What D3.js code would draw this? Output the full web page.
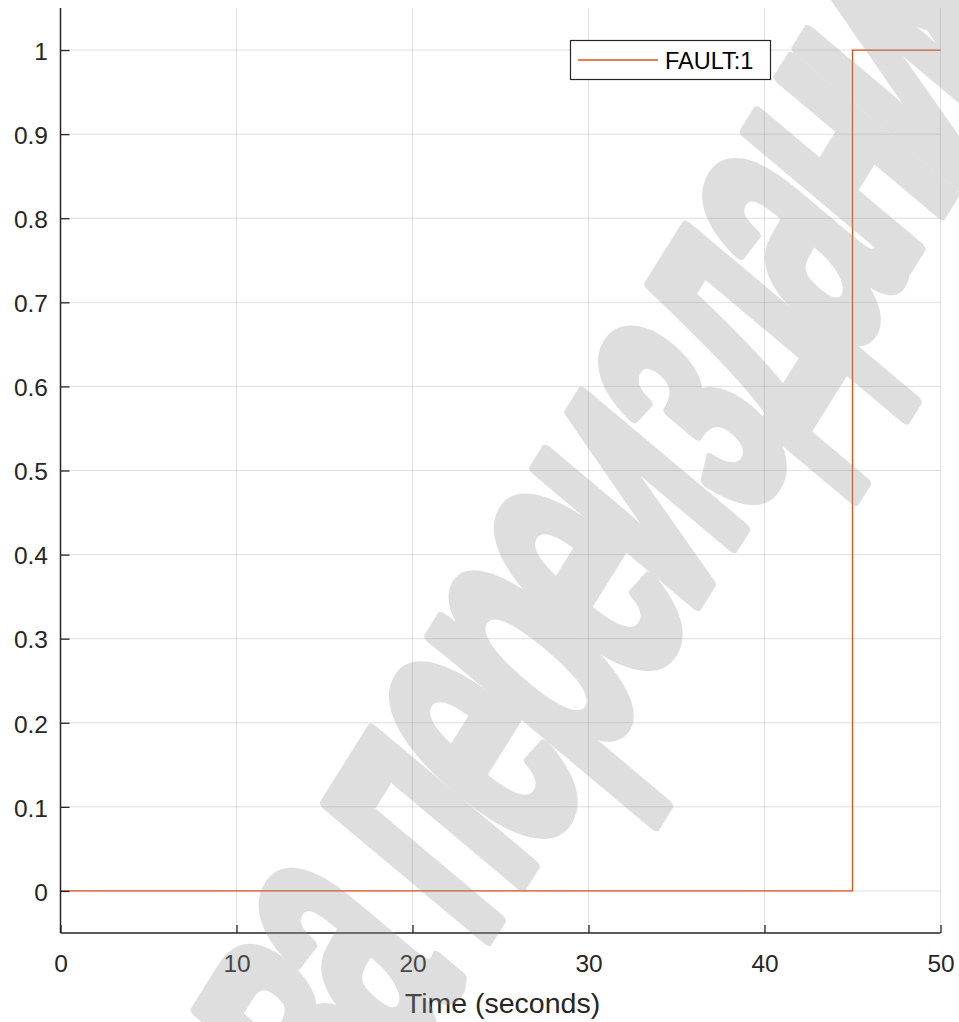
<!DOCTYPE html>
<html>
<head>
<meta charset="utf-8">
<script src="https://cdn.jsdelivr.net/npm/d3@7"></script>
<style>
  html, body { margin: 0; padding: 0; background: #ffffff; }
  svg { display: block; }
  text { font-family: "Liberation Sans", Arial, Helvetica, sans-serif; }
</style>
</head>
<body>
<svg id="chart" width="959" height="1022"></svg>
<script>
// ---- data ----
const time = [0, 45, 50];          // seconds
const fault = [0, 1, 1];           // FAULT:1 signal (step after)
const seriesName = "FAULT:1";
const xTicks = [0, 10, 20, 30, 40, 50];
const yTicks = [0, 0.1, 0.2, 0.3, 0.4, 0.5, 0.6, 0.7, 0.8, 0.9, 1];
const xLabel = "Time (seconds)";
const watermarkWords = ["ва", "переизданиж"];   // visible part of the diagonal watermark

// ---- layout ----
const plotL = 60.5, plotR = 940.5, plotT = 8, plotB = 933;
const axisColor = "#262626";
const lineColor = "#D95319";

const svg = d3.select("#chart");
const x = d3.scaleLinear().domain([0, 50]).range([plotL, plotR]);
const y = d3.scaleLinear().domain([-0.05, 1.05]).range([plotB, plotT]);

// grid
const grid = svg.append("g");
grid.selectAll("line.gx").data(xTicks).join("line").attr("class", "gx")
  .attr("x1", d => x(d)).attr("x2", d => x(d))
  .attr("y1", plotT).attr("y2", plotB)
  .attr("stroke", axisColor).attr("stroke-opacity", 0.15).attr("stroke-width", 1);
grid.selectAll("line.gy").data(yTicks).join("line").attr("class", "gy")
  .attr("x1", plotL).attr("x2", plotR)
  .attr("y1", d => y(d)).attr("y2", d => y(d))
  .attr("stroke", axisColor).attr("stroke-opacity", 0.15).attr("stroke-width", 1);

// data line
const pts = time.map((t, i) => [t, fault[i]]);
svg.append("path")
  .datum(pts)
  .attr("fill", "none")
  .attr("stroke", lineColor)
  .attr("stroke-width", 1.3)
  .attr("d", d3.line().x(d => x(d[0])).y(d => y(d[1])).curve(d3.curveStepAfter));

// axes
const xAxis = d3.axisBottom(x).tickValues(xTicks).tickSizeInner(-8).tickSizeOuter(0).tickPadding(22)
  .tickFormat(d3.format("d"));
const gx = svg.append("g").attr("transform", `translate(0,${plotB})`).call(xAxis);
const yAxis = d3.axisLeft(y).tickValues(yTicks).tickSizeInner(-9).tickSizeOuter(0).tickPadding(12.5)
  .tickFormat(d => d === 0 || d === 1 ? d3.format("d")(d) : d3.format(".1f")(d));
const gy = svg.append("g").attr("transform", `translate(${plotL},0)`).call(yAxis);

[gx, gy].forEach(g => {
  g.select(".domain").attr("stroke", axisColor).attr("stroke-width", 1.5);
  g.selectAll(".tick line").attr("stroke", axisColor).attr("stroke-width", 1.3);
  g.selectAll(".tick text").attr("fill", axisColor).attr("font-size", 24.5)
    .attr("font-family", '"Liberation Sans", Arial, sans-serif');
});
gx.select(".domain").attr("d", `M${plotL},0H${plotR}`);
gy.select(".domain").attr("d", `M0,${plotT}V${plotB}`);
gy.selectAll(".tick text").attr("dy", "0.38em");
gx.selectAll(".tick text").attr("dy", "0.71em");

// x label
svg.append("text")
  .attr("x", (plotL + plotR) / 2 + 2).attr("y", 1013)
  .attr("text-anchor", "middle")
  .attr("font-size", 28.5)
  .attr("fill", axisColor)
  .text(xLabel);

// legend
const lg = svg.append("g");
lg.append("rect").attr("x", 570.5).attr("y", 40.5).attr("width", 200).attr("height", 39)
  .attr("fill", "#ffffff").attr("stroke", axisColor).attr("stroke-width", 1.2);
lg.append("line").attr("x1", 578).attr("x2", 658).attr("y1", 60).attr("y2", 60)
  .attr("stroke", lineColor).attr("stroke-width", 1.6);
lg.append("text").attr("x", 665).attr("y", 68.5).attr("font-size", 23.5)
  .attr("fill", "#000000").text(seriesName);

// watermark overlay (diagonal, semi-transparent, drawn on top)
const adv = 99, spaceAdv = 45, sx = 0.5;
const chars = [], pos = [];
let cur = 0;
watermarkWords.forEach((w, wi) => {
  if (wi > 0) cur += spaceAdv;
  Array.from(w).forEach(c => { chars.push(c); pos.push(cur); cur += adv; });
});
const off = pos[watermarkWords[0].length];   // first letter of the second word sits at origin
const wm = svg.append("g")
  .attr("transform", "translate(510,902) rotate(-58) skewX(-8)")
  .attr("opacity", 0.3);
const wt = wm.append("text")
  .attr("transform", `scale(${sx},1)`)
  .attr("font-family", '"Liberation Sans Narrow", "DejaVu Sans Condensed", "Liberation Sans", sans-serif')
  .attr("font-weight", "bold")
  .attr("font-size", 392)
  .attr("fill", "#959595")
  .attr("stroke", "#959595")
  .attr("stroke-width", 14)
  .attr("stroke-linejoin", "round")
  .attr("text-anchor", "middle");
wt.selectAll("tspan").data(chars).join("tspan")
  .attr("x", (c, i) => (pos[i] - off) / sx)
  .attr("y", 0)
  .text(c => c);
</script>
</body>
</html>
